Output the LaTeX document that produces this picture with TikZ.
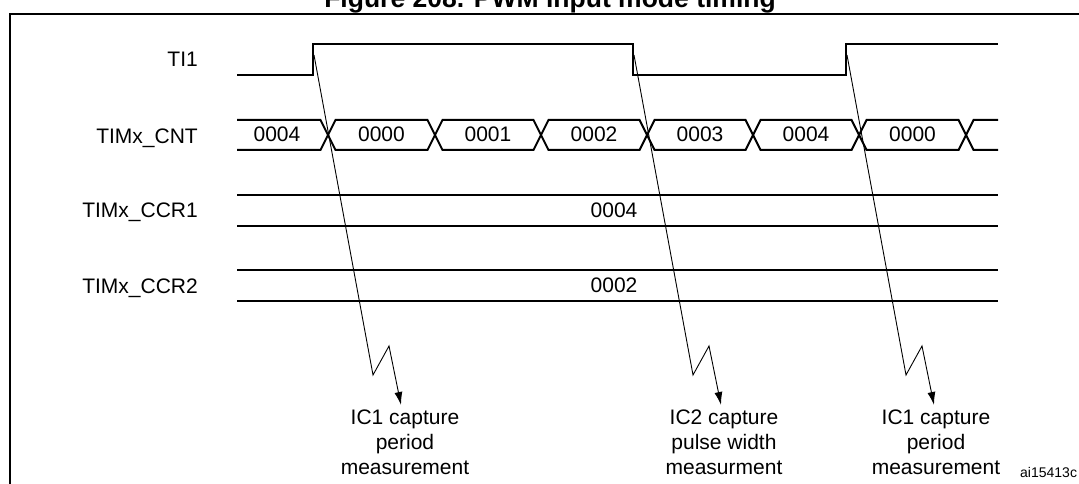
\documentclass[tikz,border=0pt]{standalone}
\usepackage{fontspec}
\setmainfont{Liberation Sans}
\usetikzlibrary{arrows.meta}
\begin{document}
\begin{tikzpicture}[x=1pt,y=-1pt,
  wave/.style={line width=2pt, line join=miter},
  frameline/.style={line width=2pt},
  capline/.style={line width=0.9pt, -{Latex[length=13pt,width=8pt]}},
  siglabel/.style={anchor=base east, font=\fontsize{21}{25}\selectfont, inner sep=0pt},
  valtext/.style={anchor=base, font=\fontsize{21}{25}\selectfont, inner sep=0pt},
  captext/.style={anchor=north, align=center, font=\fontsize{21}{25}\selectfont, inner sep=0pt},
]
\useasboundingbox (0,0) rectangle (1079,484);
\clip (0,0) rectangle (1079,484);

% title and frame
\node[anchor=base, inner sep=0pt, font=\bfseries\fontsize{26.5}{30}\selectfont] (title) at (550,8) {Figure 208. PWM input mode timing};
\draw[frameline] (10,490) -- (10,14) -- (1085,14);

% signal labels
\node[siglabel] (lti) at (198,67) {TI1};
\node[siglabel] (lcnt) at (198,143) {TIMx\_CNT};
\node[siglabel] (lccr1) at (198,217) {TIMx\_CCR1};
\node[siglabel] (lccr2) at (198,293) {TIMx\_CCR2};

% TI1 waveform
\draw[wave] (237,75) -- (313,75) -- (313,44) -- (633,44) -- (633,75) -- (846,75) -- (846,44) -- (998,44);

% counter bus
\draw[wave] (237,120) -- (320.5,120) -- (328,135) -- (320.5,150) -- (237,150);
\foreach \a/\b in {328/435,435/541,541/647,647/753,753/859,859/966}{
  \draw[wave] (\a,135) -- ({\a+7.5},120) -- ({\b-7.5},120) -- (\b,135) -- ({\b-7.5},150) -- ({\a+7.5},150) -- cycle;
}
\draw[wave] (998,120) -- (973.5,120) -- (966,135) -- (973.5,150) -- (998,150);
\node[valtext] (c0) at (277,142) {0004};
\node[valtext] (c1) at (381.5,142) {0000};
\node[valtext] (c2) at (488,142) {0001};
\node[valtext] (c3) at (594,142) {0002};
\node[valtext] (c4) at (700,142) {0003};
\node[valtext] (c5) at (806,142) {0004};
\node[valtext] (c6) at (912.5,142) {0000};

% CCR registers
\draw[wave] (237,195) -- (998,195);
\draw[wave] (237,226) -- (998,226);
\draw[wave] (237,270) -- (998,270);
\draw[wave] (237,301) -- (998,301);
\node[valtext] (v1) at (614,217) {0004};
\node[valtext] (v2) at (614,292) {0002};

% capture labels
\node[captext] (k1) at (405,410) {IC1 capture\\period\\measurement};
\node[captext] (k2) at (724,410) {IC2 capture\\pulse width\\measurment};
\node[captext] (k3) at (936,410) {IC1 capture\\period\\measurement};

% capture arrows
\coordinate (e1) at (314,55);
\coordinate (e2) at (634,55);
\coordinate (e3) at (847,55);
\coordinate (t1) at (401,405);
\coordinate (t2) at (721,405);
\coordinate (t3) at (934,405);
\draw[capline] (e1) -- (373,375) -- (389,346) -- (t1);
\draw[capline] (e2) -- (693,375) -- (709,346) -- (t2);
\draw[capline] (e3) -- (906,375) -- (922,346) -- (t3);

% reference code
\node[anchor=base west, inner sep=0pt, font=\fontsize{14}{16}\selectfont] (ref) at (1020,477) {ai15413c};
\end{tikzpicture}
\end{document}
